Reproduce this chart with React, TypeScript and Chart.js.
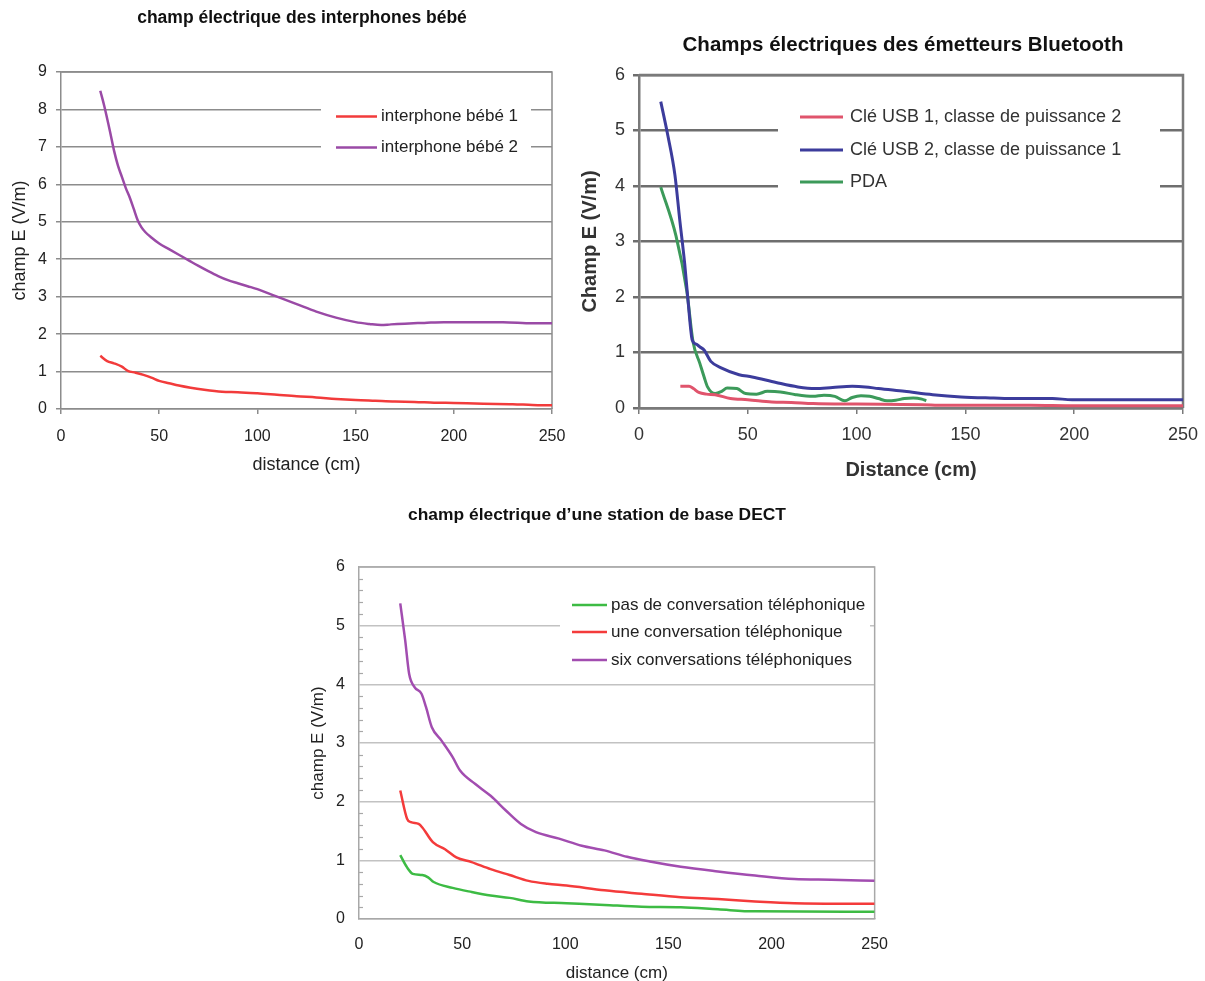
import React, { useEffect, useRef } from "react";
import { Chart, registerables } from "chart.js";

Chart.register(...registerables);

const FONT = "'Liberation Sans', Arial, Helvetica, sans-serif";

// ---------- Chart 1 : interphones bébé ----------
const babyTitle = "champ électrique des interphones bébé";
const babyLabels = ["interphone bébé 1", "interphone bébé 2"];
const baby1X = [20, 23.5, 27, 31, 34, 38, 42, 46, 50, 55, 60, 66, 72, 82, 90, 100, 110, 120, 130, 140, 150, 160, 170, 180, 190, 200, 215, 230, 240, 250];
const baby1Y = [1.42, 1.28, 1.22, 1.13, 1.02, 0.97, 0.91, 0.84, 0.75, 0.69, 0.63, 0.57, 0.52, 0.46, 0.45, 0.42, 0.38, 0.34, 0.31, 0.27, 0.24, 0.22, 0.2, 0.19, 0.17, 0.16, 0.14, 0.13, 0.11, 0.1];
const baby2X = [20, 22, 25, 27, 29, 31, 33, 35, 37, 39, 41, 43, 46, 50, 55, 60, 65, 70, 75, 80, 85, 90, 95, 100, 105, 110, 120, 130, 140, 150, 157, 163, 168, 175, 185, 195, 210, 225, 240, 250];
const baby2Y = [8.5, 8.1, 7.4, 6.9, 6.5, 6.2, 5.9, 5.65, 5.35, 5.05, 4.85, 4.72, 4.58, 4.42, 4.27, 4.12, 3.97, 3.82, 3.68, 3.55, 3.44, 3.36, 3.28, 3.2, 3.1, 3.0, 2.8, 2.6, 2.44, 2.32, 2.27, 2.24, 2.26, 2.28, 2.3, 2.32, 2.32, 2.32, 2.29, 2.29];

// ---------- Chart 2 : Bluetooth ----------
const btTitle = "Champs électriques des émetteurs Bluetooth";
const btLabels = ["Clé USB 1, classe de puissance 2", "Clé USB 2, classe de puissance 1", "PDA"];
const usb1X = [19, 23, 25, 27.5, 31, 35, 42, 50, 61, 70, 80, 100, 130, 140, 180, 200, 250];
const usb1Y = [0.39, 0.39, 0.35, 0.28, 0.25, 0.24, 0.17, 0.15, 0.11, 0.1, 0.08, 0.07, 0.06, 0.05, 0.05, 0.04, 0.04];
const usb2X = [10, 13.3, 16.5, 18.7, 21, 22.5, 24.5, 26.3, 28, 30, 33, 38, 46, 52, 63, 73, 81, 89, 98, 104, 110, 122, 135, 148, 163, 173, 190, 199, 250];
const usb2Y = [5.52, 4.9, 4.2, 3.4, 2.6, 1.95, 1.22, 1.15, 1.1, 1.04, 0.84, 0.72, 0.6, 0.56, 0.46, 0.38, 0.35, 0.37, 0.39, 0.38, 0.35, 0.3, 0.24, 0.2, 0.18, 0.17, 0.17, 0.15, 0.15];
const pdaX = [10, 17, 22, 24.8, 28, 30, 31.5, 35, 38, 40.5, 45, 49, 54, 59, 65, 72, 80, 85, 90, 94.6, 98, 102, 106, 110, 114, 118, 122, 126, 130, 132];
const pdaY = [3.98, 3.1, 2.1, 1.2, 0.8, 0.55, 0.38, 0.26, 0.3, 0.36, 0.35, 0.26, 0.25, 0.3, 0.29, 0.24, 0.21, 0.23, 0.21, 0.13, 0.19, 0.22, 0.21, 0.17, 0.13, 0.14, 0.17, 0.18, 0.16, 0.13];

// ---------- Chart 3 : DECT ----------
const dectTitle = "champ électrique d’une station de base DECT";
const dectLabels = ["pas de conversation téléphonique", "une conversation téléphonique", "six conversations téléphoniques"];
const dect0X = [20, 23.3, 26.1, 30.7, 33.5, 36.2, 45.4, 54.6, 63.8, 73, 82.2, 100.6, 119, 137, 156, 174, 192, 250];
const dect0Y = [1.09, 0.88, 0.77, 0.75, 0.71, 0.63, 0.53, 0.46, 0.4, 0.36, 0.3, 0.27, 0.24, 0.21, 0.2, 0.165, 0.13, 0.125];
const dect1X = [20, 23.3, 25.2, 28.9, 30.7, 35.8, 41.7, 47.2, 54.6, 63.8, 73, 82.2, 91.4, 100.6, 119, 137, 156, 174, 192, 211, 250];
const dect1Y = [2.19, 1.71, 1.65, 1.62, 1.56, 1.31, 1.19, 1.05, 0.97, 0.85, 0.75, 0.65, 0.6, 0.57, 0.49, 0.43, 0.37, 0.34, 0.3, 0.27, 0.26];
const dect6X = [20, 22.4, 24.3, 27, 30.3, 32.5, 35.3, 40, 45.4, 49, 56.4, 63.8, 71.2, 78.5, 85.8, 97, 108, 119, 130, 141, 156, 174, 192, 211, 229, 250];
const dect6Y = [5.38, 4.75, 4.18, 3.95, 3.84, 3.61, 3.27, 3.04, 2.76, 2.53, 2.3, 2.1, 1.85, 1.62, 1.48, 1.37, 1.25, 1.17, 1.06, 0.98, 0.89, 0.81, 0.74, 0.68, 0.67, 0.65];

const xTicks = [0, 50, 100, 150, 200, 250];

const zip = (xs: number[], ys: number[]) => xs.map((x, i) => ({ x, y: ys[i] }));

type Spec = {
  cx: number; cy: number; cw: number; ch: number;
  L: number; T: number; R: number; B: number;
  title: string; titleSize: number; titleY: number;
  xTitle: string; yTitle: string; axisTitleSize: number; axisTitleBold: boolean;
  xTitleY: number; yTitleX: number;
  tickSize: number; textColor: string;
  yMax: number;
  tickLen: number; xTickPad: number; yTickPad: number;
  gridColor: string; gridWidth: number; frameColor: string;
  datasets: { label: string; data: { x: number; y: number }[]; color: string; width: number }[];
  legend: { box: number[]; rows: number[]; x1: number; x2: number; textX: number; fontSize: number; lineWidth: number };
  minor?: number;
};

const framePlugin = {
  id: "frameLegend",
  beforeDatasetsDraw(chart: any, _a: any, opts: any) {
    const { ctx, chartArea } = chart;
    const { left, top, right, bottom } = chartArea;
    ctx.save();
    ctx.strokeStyle = opts.frameColor;
    ctx.lineWidth = opts.frameWidth;
    ctx.beginPath();
    ctx.moveTo(left, top);
    ctx.lineTo(right, top);
    ctx.lineTo(right, bottom);
    ctx.stroke();
    if (opts.minor) {
      const ys = chart.scales.y;
      ctx.lineWidth = 1.2;
      ctx.strokeStyle = opts.frameColor;
      const n = Math.round(ys.max / opts.minor);
      for (let i = 1; i < n; i++) {
        const v = i * opts.minor;
        if (Math.abs(v - Math.round(v)) < 1e-6) continue;
        const py = Math.round(ys.getPixelForValue(v)) + 0.5;
        ctx.beginPath();
        ctx.moveTo(left, py);
        ctx.lineTo(left + 4, py);
        ctx.stroke();
      }
    }
    const lg = opts.legend;
    if (lg) {
      const [bx, by, bw, bh] = lg.box;
      ctx.fillStyle = "#ffffff";
      ctx.fillRect(bx, by, bw, bh);
      ctx.font = `${lg.fontSize}px ${FONT}`;
      ctx.textBaseline = "middle";
      ctx.textAlign = "left";
      chart.data.datasets.forEach((ds: any, i: number) => {
        const y = lg.rows[i];
        ctx.strokeStyle = ds.borderColor;
        ctx.lineWidth = lg.lineWidth;
        ctx.beginPath();
        ctx.moveTo(lg.x1, y);
        ctx.lineTo(lg.x2, y);
        ctx.stroke();
        ctx.fillStyle = opts.textColor;
        ctx.fillText(ds.label, lg.textX, y);
      });
    }
    ctx.restore();
  },
};

function makeConfig(s: Spec): any {
  const tLH = s.titleSize * 1.2;
  const tPadTop = s.titleY - s.cy - tLH / 2;
  const tPadBottom = s.T - s.cy - tPadTop - tLH;
  const aLH = s.axisTitleSize * 1.2;
  const xTitlePadBottom = s.cy + s.ch - s.xTitleY - aLH / 2;
  const yTitlePadTop = s.yTitleX - s.cx - aLH / 2;
  const yWidth = s.L - s.cx;
  const xHeight = s.cy + s.ch - s.B;
  const rightPad = s.cx + s.cw - s.R;
  const axisFont = { family: FONT, size: s.axisTitleSize, weight: s.axisTitleBold ? "bold" : "normal" };
  const tickFont = { family: FONT, size: s.tickSize };
  const lg = s.legend;
  return {
    type: "line",
    data: {
      datasets: s.datasets.map((d) => ({
        label: d.label,
        data: d.data,
        borderColor: d.color,
        backgroundColor: d.color,
        borderWidth: d.width,
        pointRadius: 0,
        fill: false,
        cubicInterpolationMode: "monotone",
        yAxisID: "y",
      })),
    },
    options: {
      responsive: false,
      animation: false,
      devicePixelRatio: 1,
      layout: { padding: 0 },
      plugins: {
        legend: { display: false },
        tooltip: { enabled: false },
        title: {
          display: true,
          text: s.title,
          color: "#111",
          font: { family: FONT, size: s.titleSize, weight: "bold", lineHeight: 1.2 },
          padding: { top: tPadTop, bottom: tPadBottom },
        },
        frameLegend: {
          frameColor: s.frameColor,
          frameWidth: s.gridWidth,
          textColor: s.textColor,
          minor: s.minor || 0,
          legend: {
            box: [lg.box[0] - s.cx, lg.box[1] - s.cy, lg.box[2], lg.box[3]],
            rows: lg.rows.map((r) => r - s.cy),
            x1: lg.x1 - s.cx,
            x2: lg.x2 - s.cx,
            textX: lg.textX - s.cx,
            fontSize: lg.fontSize,
            lineWidth: lg.lineWidth,
          },
        },
      },
      scales: {
        x: {
          type: "linear",
          min: 0,
          max: 250,
          afterBuildTicks: (sc: any) => {
            sc.ticks = xTicks.map((v) => ({ value: v }));
          },
          afterFit: (sc: any) => {
            sc.height = xHeight;
          },
          grid: {
            display: s.tickLen > 0,
            drawOnChartArea: false,
            drawTicks: s.tickLen > 0,
            tickLength: s.tickLen,
            color: s.frameColor,
            lineWidth: 1.5,
          },
          border: { display: true, color: s.frameColor, width: s.gridWidth },
          ticks: { font: tickFont, color: s.textColor, padding: s.xTickPad, maxRotation: 0, autoSkip: false },
          title: {
            display: true,
            text: s.xTitle,
            color: s.textColor,
            font: { ...axisFont, lineHeight: 1.2 },
            padding: { top: 0, bottom: xTitlePadBottom },
          },
        },
        y: {
          type: "linear",
          position: "left",
          min: 0,
          max: s.yMax,
          ticks: { stepSize: 1, font: tickFont, color: s.textColor, padding: s.yTickPad },
          afterFit: (sc: any) => {
            sc.width = yWidth;
          },
          grid: {
            display: true,
            drawOnChartArea: true,
            drawTicks: s.tickLen > 0,
            tickLength: s.tickLen,
            color: s.gridColor,
            lineWidth: s.gridWidth,
          },
          border: { display: true, color: s.frameColor, width: s.gridWidth },
          title: {
            display: true,
            text: s.yTitle,
            color: s.textColor,
            font: { ...axisFont, lineHeight: 1.2 },
            padding: { top: yTitlePadTop, bottom: 0 },
          },
        },
        // empty right-hand spacer so the title stays centred on the whole canvas
        spacer: {
          type: "linear",
          position: "right",
          min: 0,
          max: 1,
          display: true,
          grid: { display: false, drawTicks: false },
          border: { display: false },
          ticks: { display: false },
          title: { display: false },
          afterFit: (sc: any) => {
            sc.width = rightPad;
          },
        },
      },
    },
    plugins: [framePlugin],
  };
}

const babySpec: Spec = {
  cx: 0, cy: 0, cw: 604, ch: 490,
  L: 61, T: 72, R: 552, B: 409,
  title: babyTitle, titleSize: 17.5, titleY: 18.5,
  xTitle: "distance (cm)", yTitle: "champ E (V/m)", axisTitleSize: 18, axisTitleBold: false,
  xTitleY: 465.5, yTitleX: 20,
  tickSize: 16, textColor: "#222",
  yMax: 9,
  tickLen: 5, xTickPad: 13, yTickPad: 9,
  gridColor: "#8c8c8c", gridWidth: 1.5, frameColor: "#8c8c8c",
  datasets: [
    { label: babyLabels[0], data: zip(baby1X, baby1Y), color: "#f23b3b", width: 2.5 },
    { label: babyLabels[1], data: zip(baby2X, baby2Y), color: "#9a4aa6", width: 2.5 },
  ],
  legend: { box: [321, 96, 210, 68], rows: [116.5, 147.5], x1: 336, x2: 377, textX: 381, fontSize: 17, lineWidth: 2.5 },
};

const btSpec: Spec = {
  cx: 570, cy: 0, cw: 666, ch: 490,
  L: 639, T: 75, R: 1183, B: 408,
  title: btTitle, titleSize: 20.5, titleY: 45,
  xTitle: "Distance (cm)", yTitle: "Champ E (V/m)", axisTitleSize: 20, axisTitleBold: true,
  xTitleY: 470, yTitleX: 590,
  tickSize: 18, textColor: "#333",
  yMax: 6,
  tickLen: 6, xTickPad: 10, yTickPad: 8,
  gridColor: "#6e6e6e", gridWidth: 2.5, frameColor: "#7a7a7a",
  datasets: [
    { label: btLabels[0], data: zip(usb1X, usb1Y), color: "#e0546c", width: 3 },
    { label: btLabels[1], data: zip(usb2X, usb2Y), color: "#3c3c9c", width: 3 },
    { label: btLabels[2], data: zip(pdaX, pdaY), color: "#3c9a5a", width: 3 },
  ],
  legend: { box: [778, 100, 382, 100], rows: [117, 150, 182], x1: 800, x2: 843, textX: 850, fontSize: 18, lineWidth: 3 },
};

const dectSpec: Spec = {
  cx: 290, cy: 490, cw: 614, ch: 500,
  L: 359, T: 567, R: 880, B: 919,
  title: dectTitle, titleSize: 17.4, titleY: 515,
  xTitle: "distance (cm)", yTitle: "champ E (V/m)", axisTitleSize: 17, axisTitleBold: false,
  xTitleY: 973, yTitleX: 318,
  tickSize: 16, textColor: "#222",
  yMax: 6,
  tickLen: 0, xTickPad: 16, yTickPad: 14,
  gridColor: "#c2c2c2", gridWidth: 1.5, frameColor: "#a8a8a8",
  datasets: [
    { label: dectLabels[0], data: zip(dect0X, dect0Y), color: "#3dbb44", width: 2.5 },
    { label: dectLabels[1], data: zip(dect1X, dect1Y), color: "#f43b3b", width: 2.5 },
    { label: dectLabels[2], data: zip(dect6X, dect6Y), color: "#a24db0", width: 2.5 },
  ],
  legend: { box: [560, 590, 310, 85], rows: [605, 632, 660], x1: 572, x2: 607, textX: 611, fontSize: 17, lineWidth: 2.5 },
  minor: 0.2,
};

function ChartCanvas({ spec }: { spec: Spec }) {
  const ref = useRef<HTMLCanvasElement | null>(null);
  useEffect(() => {
    if (!ref.current) return;
    const chart = new Chart(ref.current, makeConfig(spec));
    return () => chart.destroy();
  }, [spec]);
  return (
    <canvas
      ref={ref}
      width={spec.cw}
      height={spec.ch}
      style={{ position: "absolute", left: spec.cx, top: spec.cy, width: spec.cw, height: spec.ch }}
    />
  );
}

export default function App() {
  return (
    <div
      style={{
        position: "absolute",
        left: 0,
        top: 0,
        width: 1205,
        height: 981,
        overflow: "hidden",
        background: "#ffffff",
      }}
    >
      <ChartCanvas spec={babySpec} />
      <ChartCanvas spec={btSpec} />
      <ChartCanvas spec={dectSpec} />
    </div>
  );
}
